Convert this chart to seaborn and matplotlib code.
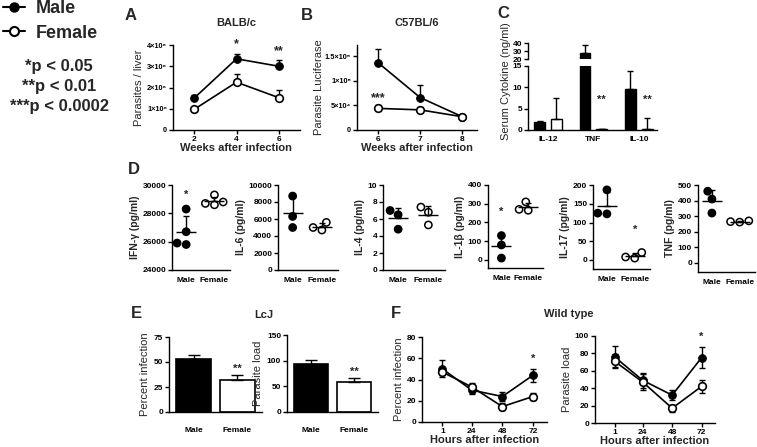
import numpy as np
import pandas as pd
import matplotlib
matplotlib.use("Agg")
import matplotlib.pyplot as plt
import seaborn as sns
from matplotlib.ticker import FuncFormatter
from matplotlib.lines import Line2D

sns.set_theme(style="ticks")
plt.rcParams["font.family"] = ["Liberation Sans", "DejaVu Sans"]
plt.rcParams["axes.linewidth"] = 1.0

# ---------------- data ----------------
weeks_A = [2, 4, 6]
A_male = [1.5e8, 3.35e8, 3.0e8]
A_male_err = [0.17e8, 0.25e8, 0.3e8]
A_female = [0.97e8, 2.25e8, 1.52e8]
A_female_err = [0.05e8, 0.37e8, 0.35e8]

weeks_B = [6, 7, 8]
B_male = [1.37e5, 6.6e4, 2.7e4]
B_male_err = [2.8e4, 2.5e4, 0.2e4]
B_female = [4.4e4, 4.1e4, 2.7e4]
B_female_err = [0.7e4, 0.5e4, 0.2e4]

C_cytokines = ["IL-12", "TNF", "IL-10"]
C_male = [1.8, 28.0, 9.5]
C_male_err = [0.4, 10.0, 4.3]
C_female = [2.5, 0.3, 0.15]
C_female_err = [5.0, 0.05, 2.6]

D_labels = ["IFN-γ (pg/ml)", "IL-6 (pg/ml)", "IL-4 (pg/ml)",
            "IL-1β (pg/ml)", "IL-17 (pg/ml)", "TNF (pg/ml)"]
D_male = [[28300, 26700, 25800, 25900], [8700, 6300, 5000], [7.0, 6.5, 4.8],
          [130, 80, 10], [187, 123, 125], [460, 410, 320]]
D_female = [[29300, 28700, 28600, 28800], [5600, 4700, 5000], [7.4, 6.8, 5.3],
            [310, 270, 265], [20, 8, 5], [270, 262, 265]]

E_sex = ["Male", "Female"]
E_pct = [53.5, 32.0]
E_pct_err = [3.5, 5.0]
E_load = [93.0, 58.0]
E_load_err = [8.0, 9.0]

F_hours = [1, 24, 48, 72]
F_pct_male = [50, 30, 24, 44]
F_pct_male_err = [8, 4, 4, 6]
F_pct_female = [47, 33, 14.5, 24]
F_pct_female_err = [3, 4, 3, 3]
F_load_male = [76, 49, 32, 75]
F_load_male_err = [12, 9, 6, 12]
F_load_female = [71, 47, 17, 42]
F_load_female_err = [8, 9, 4, 7]

# ---------------- layout helpers ----------------
W, H = 757, 447
fig = plt.figure(figsize=(W / 100, H / 100), dpi=100)


def rect(l, t, r, b):
    return [l / W, 1 - b / H, (r - l) / W, (b - t) / H]


TICK_FS = 6.0
LAB_FS = 8.0


def style(ax):
    sns.despine(ax=ax)
    ax.tick_params(axis="both", labelsize=TICK_FS, length=3, width=1,
                   pad=1.2, colors="black")
    for s in ax.spines.values():
        s.set_color("black")
        s.set_linewidth(1.0)
    ax.set_facecolor("white")


def fin(ax):
    for t in ax.get_xticklabels() + ax.get_yticklabels():
        t.set_fontweight("bold")


def sex_lines(ax, x, m, me, f, fe, both=False, ms=5.5):
    dm = pd.DataFrame({"x": x, "y": m})
    df = pd.DataFrame({"x": x, "y": f})
    sns.lineplot(data=dm, x="x", y="y", ax=ax, color="black", marker="o",
                 markersize=ms, markerfacecolor="black", markeredgecolor="black",
                 lw=1.2, zorder=3, label="Male", legend=False)
    sns.lineplot(data=df, x="x", y="y", ax=ax, color="black", marker="o",
                 markersize=ms, markerfacecolor="white", markeredgecolor="black",
                 markeredgewidth=1.2, lw=1.2, zorder=4, label="Female", legend=False)
    lo_m = me if both else [0] * len(me)
    lo_f = fe if both else [0] * len(fe)
    ax.errorbar(x, m, yerr=[lo_m, me], fmt="none", ecolor="black",
                elinewidth=1, capsize=2.5, capthick=1, zorder=2)
    ax.errorbar(x, f, yerr=[lo_f, fe], fmt="none", ecolor="black",
                elinewidth=1, capsize=2.5, capthick=1, zorder=2)


# ---------------- Panel A ----------------
axA = fig.add_axes(rect(173, 45, 300, 130))
sex_lines(axA, weeks_A, A_male, A_male_err, A_female, A_female_err)
axA.set_xlim(1, 7)
axA.set_ylim(0, 4e8)
axA.set_xticks(weeks_A)
axA.set_yticks([0, 1e8, 2e8, 3e8, 4e8])
axA.yaxis.set_major_formatter(FuncFormatter(
    lambda v, p: "0" if v == 0 else f"{int(round(v / 1e8))}×10⁸"))
style(axA)
axA.tick_params(axis="y", labelsize=5.3)
axA.set_xlabel("Weeks after infection", fontsize=LAB_FS, fontweight="bold", labelpad=0)
axA.set_ylabel("Parasites / liver", fontsize=LAB_FS, labelpad=2)
axA.set_title("BALB/c", fontsize=8, fontweight="bold", pad=14)
axA.text(4, A_male[1] + A_male_err[1] + 0.15e8, "*", ha="center", va="bottom", fontsize=9, fontweight="bold")
axA.text(6, A_male[2] + A_male_err[2] + 0.15e8, "**", ha="center", va="bottom", fontsize=9, fontweight="bold")
fin(axA)

# ---------------- Panel B ----------------
axB = fig.add_axes(rect(357, 45, 477, 130))
sex_lines(axB, weeks_B, B_male, B_male_err, B_female, B_female_err)
axB.set_xlim(5.5, 8.35)
axB.set_ylim(0, 1.73e5)
axB.set_xticks(weeks_B)
axB.set_yticks([0, 5e4, 1e5, 1.5e5])
axB.yaxis.set_major_formatter(FuncFormatter(
    lambda v, p: {0: "0", 5e4: "5×10⁴", 1e5: "1×10⁵", 1.5e5: "1.5×10⁵"}.get(v, "")))
style(axB)
axB.tick_params(axis="y", labelsize=5.3)
axB.set_xlabel("Weeks after infection", fontsize=LAB_FS, fontweight="bold", labelpad=0)
axB.set_ylabel("Parasite Luciferase", fontsize=LAB_FS, labelpad=1)
axB.set_title("C57BL/6", fontsize=8, fontweight="bold", pad=14)
axB.text(6, B_female[0] + B_female_err[0] + 0.2e4, "***", ha="center", va="bottom", fontsize=9, fontweight="bold")
fin(axB)

# ---------------- Panel C (broken axis) ----------------
dfC = pd.DataFrame({
    "cyt": C_cytokines * 2,
    "sex": ["Male"] * 3 + ["Female"] * 3,
    "val": C_male + C_female,
})
errC = C_male_err + C_female_err
axCl = fig.add_axes(rect(528, 66, 657, 130))
axCu = fig.add_axes(rect(528, 43, 657, 59))
for ax in (axCl, axCu):
    sns.barplot(data=dfC, x="cyt", y="val", hue="sex", ax=ax,
                palette={"Male": "black", "Female": "white"},
                edgecolor="black", linewidth=1.0, width=0.74, gap=0.35,
                errorbar=None, legend=False)
    bars = [p for p in ax.patches if p.get_height() > 0]
    xs = [p.get_x() + p.get_width() / 2 for p in bars]
    hs = [p.get_height() for p in bars]
    ax.errorbar(xs, hs, yerr=[[0] * len(hs), errC], fmt="none", ecolor="black",
                elinewidth=1, capsize=2.5, capthick=1, zorder=5)
    ax.set_xlim(-0.44, 2.4)
    ax.set_xlabel("")
    ax.set_ylabel("")
axCl.set_ylim(0, 15)
axCl.set_yticks([0, 5, 10, 15])
axCu.set_ylim(20, 40)
axCu.set_yticks([20, 30, 40])
style(axCl)
style(axCu)
axCu.spines["bottom"].set_visible(False)
axCu.tick_params(axis="x", bottom=False, labelbottom=False)
axCl.tick_params(axis="x", length=0, pad=4)
barsC = [p for p in axCl.patches if p.get_height() > 0]
for i in (4, 5):
    p = barsC[i]
    axCl.text(p.get_x() + p.get_width() / 2, 6, "**", ha="center", va="bottom",
              fontsize=8, fontweight="bold")
fin(axCl)
fin(axCu)
fig.text(506 / W, 1 - 81 / H, "Serum Cytokine (ng/ml)", rotation=90,
         ha="center", va="center", fontsize=LAB_FS)

# ---------------- Panel D ----------------
D_rects = [(172, 185, 230, 270), (278, 185, 338, 270), (383, 185, 445, 270),
           (488, 185, 543, 268), (593, 185, 650, 269), (698, 185, 755, 272)]
D_ylims = [(24000, 30000), (0, 10000), (0, 10), (-43, 400), (-24, 200), (-58, 500)]
D_yticks = [np.arange(24000, 30001, 2000), np.arange(0, 10001, 2000),
            np.arange(0, 11, 2), np.arange(0, 401, 100), np.arange(0, 201, 50),
            np.arange(0, 501, 100)]
D_star = {0: ("Male", 29300), 3: ("Male", 258), 4: ("Female", 80)}
for i in range(6):
    ax = fig.add_axes(rect(*D_rects[i]))
    dd = pd.DataFrame({"sex": ["Male"] * len(D_male[i]) + ["Female"] * len(D_female[i]),
                       "val": D_male[i] + D_female[i]})
    sns.swarmplot(data=dd, x="sex", y="val", hue="sex", ax=ax,
                  palette={"Male": "black", "Female": "white"},
                  edgecolor="black", linewidth=1.1, size=5.2, legend=False, zorder=3)
    means = dd.groupby("sex", sort=False)["val"].mean().values
    sds = dd.groupby("sex", sort=False)["val"].std().values
    ax.errorbar([0, 1], means, yerr=[[0, 0], sds], fmt="_", color="black",
                markersize=14, markeredgewidth=1.0, elinewidth=1, capsize=2.5,
                capthick=1, zorder=4)
    ax.set_xlim(-0.5, 1.55)
    ax.set_ylim(*D_ylims[i])
    ax.set_yticks(D_yticks[i])
    ax.set_xlabel("")
    style(ax)
    ax.tick_params(axis="x", length=0, pad=5)
    ax.set_ylabel(D_labels[i], fontsize=7.5, fontweight="bold", labelpad=2)
    if i in D_star:
        s, y = D_star[i]
        ax.text(0 if s == "Male" else 1, y, "*", ha="center", va="center",
                fontsize=8, fontweight="bold")
    fin(ax)

# ---------------- Panel E ----------------
for (l, t, r, b), vals, errs, ytxt, ytk, ymax in [
        ((169, 337, 262, 412), E_pct, E_pct_err, "Percent infection", [0, 25, 50, 75], 75),
        ((287, 335, 378, 412), E_load, E_load_err, "Parasite load", [0, 50, 100, 150], 150)]:
    ax = fig.add_axes(rect(l, t, r, b))
    de = pd.DataFrame({"sex": E_sex, "val": vals})
    sns.barplot(data=de, x="sex", y="val", hue="sex", ax=ax,
                palette={"Male": "black", "Female": "white"},
                edgecolor="black", linewidth=1.2, width=0.78, errorbar=None, legend=False)
    bars = [p for p in ax.patches if p.get_height() > 0]
    xs = [p.get_x() + p.get_width() / 2 for p in bars]
    ax.errorbar(xs, vals, yerr=[[0, 0], errs], fmt="none", ecolor="black",
                elinewidth=1, capsize=4, capthick=1, zorder=5)
    ax.text(xs[1], vals[1] + errs[1] + ymax * 0.08, "**", ha="center", va="center",
            fontsize=8, fontweight="bold")
    ax.set_xlim(-0.56, 1.56)
    ax.set_ylim(0, ymax)
    ax.set_yticks(ytk)
    ax.set_xlabel("")
    style(ax)
    ax.tick_params(axis="x", length=0, pad=11)
    ax.set_ylabel(ytxt, fontsize=LAB_FS, labelpad=3)
    fin(ax)
fig.text(264 / W, 1 - 315 / H, "LcJ", ha="center", va="center", fontsize=8, fontweight="bold")

# ---------------- Panel F ----------------
for (l, t, r, b), m, me, f, fe, ytxt, ytk, ymax in [
        ((422, 337, 547, 422), F_pct_male, F_pct_male_err, F_pct_female, F_pct_female_err,
         "Percent infection", [0, 20, 40, 60, 80], 80),
        ((595, 336, 715, 423), F_load_male, F_load_male_err, F_load_female, F_load_female_err,
         "Parasite load", [0, 20, 40, 60, 80, 100], 100)]:
    ax = fig.add_axes(rect(l, t, r, b))
    sex_lines(ax, F_hours, m, me, f, fe, both=True, ms=5.5)
    ax.set_xlim(-15, 83)
    ax.set_ylim(0, ymax)
    ax.set_xticks(F_hours)
    ax.set_yticks(ytk)
    style(ax)
    ax.set_xlabel("Hours after infection", fontsize=LAB_FS, fontweight="bold", labelpad=0)
    ax.set_ylabel(ytxt, fontsize=LAB_FS, labelpad=2)
    ax.text(72, m[3] + me[3] + ymax * 0.06, "*", ha="center", va="bottom",
            fontsize=8, fontweight="bold")
    fin(ax)
fig.text(569 / W, 1 - 314 / H, "Wild type", ha="center", va="center", fontsize=8, fontweight="bold")

# ---------------- panel letters ----------------
for lt, x, y in [("A", 131, 15), ("B", 307, 15), ("C", 503, 14), ("D", 134, 170),
                 ("E", 136, 314), ("F", 396, 314)]:
    fig.text(x / W, 1 - y / H, lt, ha="center", va="center", fontsize=12, fontweight="bold")

# ---------------- legend / p-values ----------------
handles = [Line2D([], [], color="black", marker="o", markersize=6.5, markerfacecolor="black", lw=1.5),
           Line2D([], [], color="black", marker="o", markersize=6.5, markerfacecolor="white",
                  markeredgewidth=1.5, lw=1.5)]
fig.legend(handles, ["Male", "Female"], loc="upper left", bbox_to_anchor=(0.004, 1.0),
           frameon=False, prop={"size": 13, "weight": "bold"}, handlelength=1.2,
           handletextpad=0.6, labelspacing=0.42, borderpad=0.0, borderaxespad=0.0)
for txt, y in [("*p < 0.05", 67), ("**p < 0.01", 87), ("***p < 0.0002", 107)]:
    fig.text(59 / W, 1 - y / H, txt, ha="center", va="center", fontsize=12, fontweight="bold")

fig.savefig("out.png", dpi=100, facecolor="white")
